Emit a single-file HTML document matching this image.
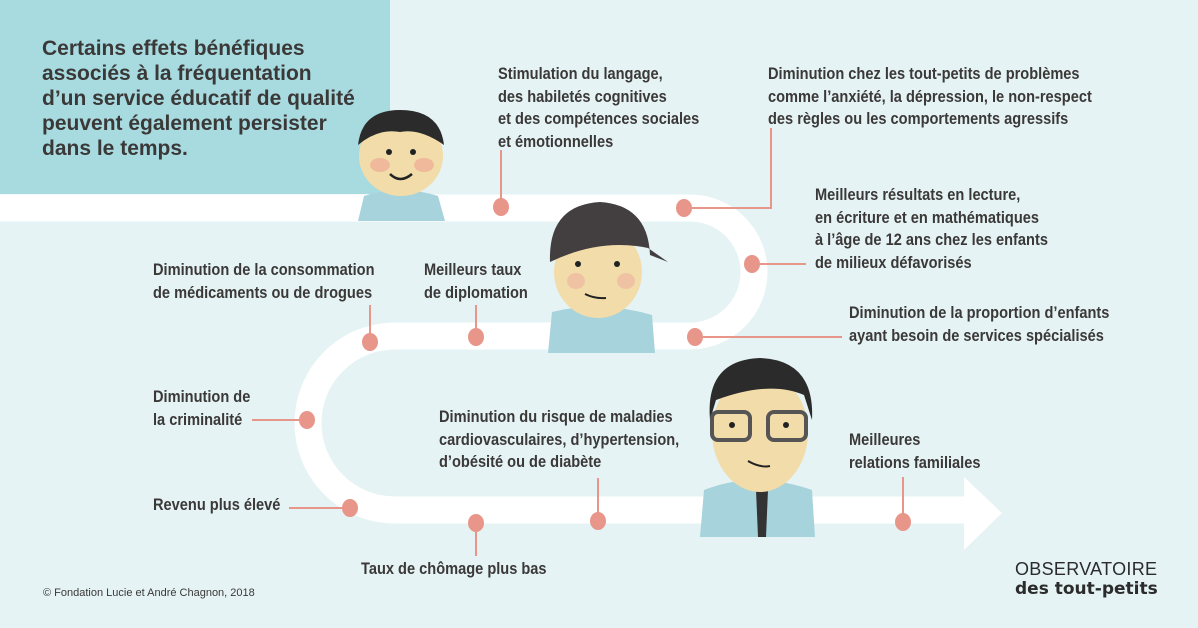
<!DOCTYPE html>
<html><head><meta charset="utf-8"><style>
body{margin:0;width:1198px;height:628px;overflow:hidden;background:#e5f3f4;font-family:"Liberation Sans",sans-serif;}
.t{position:absolute;font-weight:bold;font-size:16.5px;line-height:22.5px;color:#3b3838;white-space:nowrap;transform:scaleX(0.885);transform-origin:0 0;}
.box{position:absolute;left:0;top:0;width:390px;height:194px;background:#a8dbe0;}
.title{position:absolute;left:42px;top:36px;font-family:"Liberation Sans",sans-serif;font-weight:bold;font-size:21px;line-height:25px;color:#3b3838;white-space:nowrap;}
</style></head><body>
<div class="box"></div>
<div class="title">Certains effets bénéfiques<br>associés à la fréquentation<br>d’un service éducatif de qualité<br>peuvent également persister<br>dans le temps.</div>
<svg width="1198" height="628" style="position:absolute;left:0;top:0">
<path d="M0,208 H690 A64,64 0 0 1 690,336 H395 A87,87 0 0 0 395,510 H970" fill="none" stroke="#fff" stroke-width="27"/>
<polygon points="964,477 1002,513 964,550" fill="#fff"/>
<g stroke="#e8958a" stroke-width="2" fill="none">
<path d="M501,150V200"/><path d="M692,208H771V128"/><path d="M760,264H806"/><path d="M703,337H842"/>
<path d="M370,305V335"/><path d="M476,305V330"/><path d="M252,420H300"/><path d="M289,508H342"/>
<path d="M476,530V556"/><path d="M598,478V514"/><path d="M903,477V515"/>
</g>
<g fill="#e8958a">
<ellipse cx="501" cy="207" rx="8" ry="9"/><ellipse cx="684" cy="208" rx="8" ry="9"/><ellipse cx="752" cy="264" rx="8" ry="9"/>
<ellipse cx="695" cy="337" rx="8" ry="9"/><ellipse cx="370" cy="342" rx="8" ry="9"/><ellipse cx="476" cy="337" rx="8" ry="9"/>
<ellipse cx="307" cy="420" rx="8" ry="9"/><ellipse cx="350" cy="508" rx="8" ry="9"/><ellipse cx="476" cy="523" rx="8" ry="9"/>
<ellipse cx="598" cy="521" rx="8" ry="9"/><ellipse cx="903" cy="522" rx="8" ry="9"/>
</g>
<!-- kid 1 -->
<path d="M358,221 L364,196 Q400,184 438,196 L445,221Z" fill="#a7d3dc"/>
<ellipse cx="401" cy="156" rx="42" ry="40" fill="#f2dcaa"/>
<path d="M358,145 Q362,110 400,110 Q440,110 444,145 Q420,128 400,132 Q378,128 358,145Z" fill="#2b2b2b"/>
<ellipse cx="380" cy="165" rx="10" ry="7" fill="#f0b99c"/><ellipse cx="424" cy="165" rx="10" ry="7" fill="#f0b99c"/>
<circle cx="389" cy="152" r="3" fill="#222"/><circle cx="413" cy="152" r="3" fill="#222"/>
<path d="M390,174 Q400,184 412,174" stroke="#222" stroke-width="2.5" fill="none"/>
<!-- kid 2 -->
<path d="M548,353 L552,312 Q600,300 652,315 L655,353Z" fill="#a7d3dc"/>
<ellipse cx="598" cy="272" rx="44" ry="46" fill="#f2dcaa"/>
<path d="M550,262 Q548,205 600,202 Q648,205 650,255 L668,262 L648,248 Q600,238 550,262Z" fill="#433e3f"/>
<ellipse cx="576" cy="281" rx="9" ry="8" fill="#f0c2a4"/><ellipse cx="626" cy="281" rx="9" ry="8" fill="#f0c2a4"/>
<circle cx="578" cy="264" r="3" fill="#222"/><circle cx="617" cy="264" r="3" fill="#222"/>
<path d="M585,294 Q595,299 606,298" stroke="#222" stroke-width="2" fill="none"/>
<!-- man -->
<path d="M700,537 L704,490 Q755,470 812,490 L815,537Z" fill="#a7d3dc"/>
<path d="M756,490 L768,490 L766,537 L758,537Z" fill="#333"/>
<ellipse cx="760" cy="432" rx="48" ry="60" fill="#f2dcaa"/>
<path d="M710,420 Q705,360 760,358 Q815,360 812,420 L804,395 Q770,380 716,400Z" fill="#2b2b2b"/>
<rect x="712" y="412" width="38" height="28" rx="6" fill="none" stroke="#555" stroke-width="4"/>
<rect x="768" y="412" width="38" height="28" rx="6" fill="none" stroke="#555" stroke-width="4"/>
<circle cx="732" cy="425" r="3" fill="#222"/><circle cx="786" cy="425" r="3" fill="#222"/>
<path d="M748,461 Q760,468 770,466" stroke="#222" stroke-width="2" fill="none"/>
</svg>
<div class="t" style="left:498px;top:63px">Stimulation du langage,<br>des habiletés cognitives<br>et des compétences sociales<br>et émotionnelles</div>
<div class="t" style="left:768px;top:63px">Diminution chez les tout-petits de problèmes<br>comme l’anxiété, la dépression, le non-respect<br>des règles ou les comportements agressifs</div>
<div class="t" style="left:815px;top:184px">Meilleurs résultats en lecture,<br>en écriture et en mathématiques<br>à l’âge de 12 ans chez les enfants<br>de milieux défavorisés</div>
<div class="t" style="left:153px;top:259px">Diminution de la consommation<br>de médicaments ou de drogues</div>
<div class="t" style="left:424px;top:259px">Meilleurs taux<br>de diplomation</div>
<div class="t" style="left:849px;top:302px">Diminution de la proportion d’enfants<br>ayant besoin de services spécialisés</div>
<div class="t" style="left:153px;top:386px">Diminution de<br>la criminalité</div>
<div class="t" style="left:439px;top:406px">Diminution du risque de maladies<br>cardiovasculaires, d’hypertension,<br>d’obésité ou de diabète</div>
<div class="t" style="left:849px;top:429px">Meilleures<br>relations familiales</div>
<div class="t" style="left:153px;top:494px">Revenu plus élevé</div>
<div class="t" style="left:361px;top:558px">Taux de chômage plus bas</div>
<div style="position:absolute;left:43px;top:587px;font-family:'Liberation Sans',sans-serif;font-size:11px;color:#3b3838">© Fondation Lucie et André Chagnon, 2018</div>
<div style="position:absolute;left:1015px;top:559px;font-family:'Liberation Sans',sans-serif;font-size:18px;line-height:20px;color:#2b2b2b;letter-spacing:0.3px">OBSERVATOIRE</div>
<div style="position:absolute;left:1015px;top:579px;font-family:'DejaVu Sans',sans-serif;font-weight:bold;font-size:17px;line-height:20px;color:#2b2b2b">des tout-petits</div>
</body></html>
